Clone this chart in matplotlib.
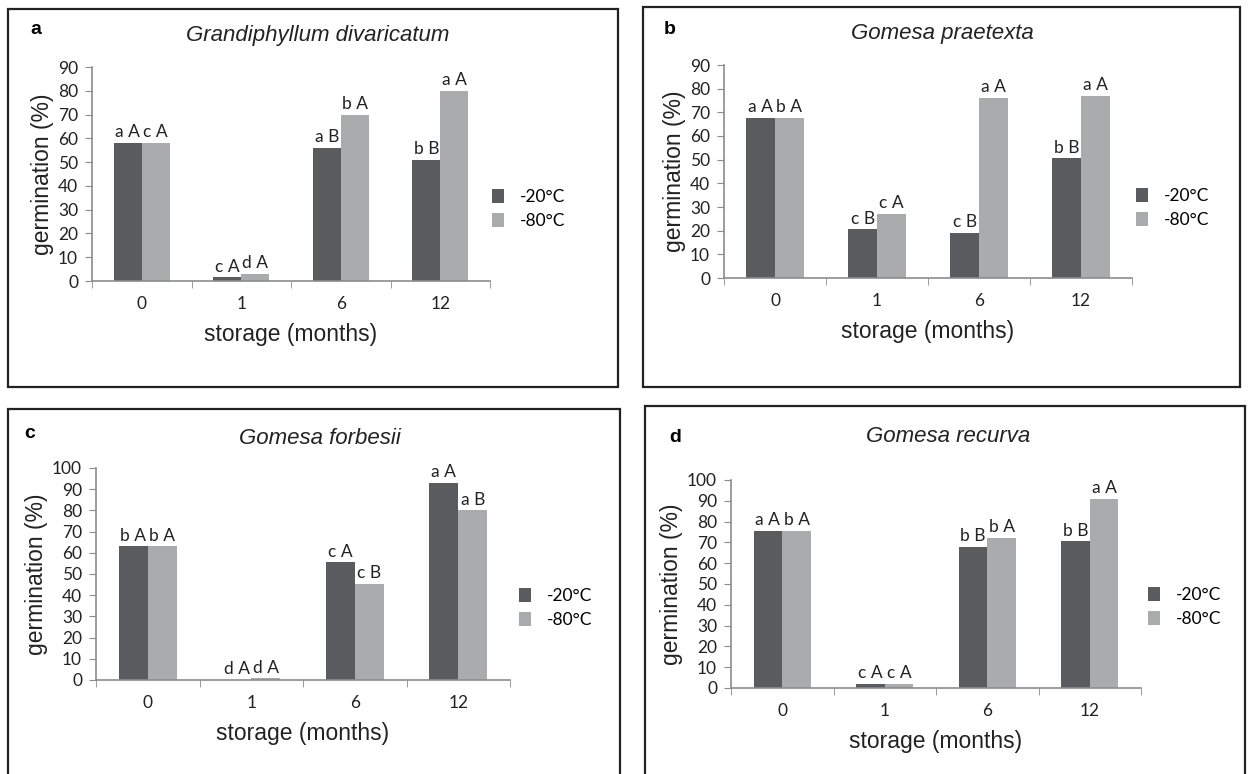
import matplotlib.pyplot as plt
from matplotlib.patches import Rectangle
import numpy as np

# storage times (months) and temperatures
months = ['0', '1', '6', '12']
temps = ['-20°C', '-80°C']

# germination (%)
a_m20 = [58, 1.5, 56, 51]
a_m80 = [58, 3, 70, 80]
b_m20 = [67.5, 20.5, 19, 50.5]
b_m80 = [67.5, 27, 76, 77]
c_m20 = [63, 0, 55.5, 93]
c_m80 = [63, 0.8, 45.5, 80]
d_m20 = [75.5, 2, 68, 70.5]
d_m80 = [75.5, 2, 72, 91]

# letters of the statistical test
a_lab20 = ['a A', 'c A', 'a B', 'b B']
a_lab80 = ['c A', 'd A', 'b A', 'a A']
b_lab20 = ['a A', 'c B', 'c B', 'b B']
b_lab80 = ['b A', 'c A', 'a A', 'a A']
c_lab20 = ['b A', 'd A', 'c A', 'a A']
c_lab80 = ['b A', 'd A', 'c B', 'a B']
d_lab20 = ['a A', 'c A', 'b B', 'b B']
d_lab80 = ['b A', 'c A', 'b A', 'a A']

species = ['Grandiphyllum divaricatum', 'Gomesa praetexta', 'Gomesa forbesii', 'Gomesa recurva']
letters = ['a', 'b', 'c', 'd']

W, H = 1248, 774
fig = plt.figure(figsize=(W / 100, H / 100), dpi=100)

dark = '#595c5e'
light = '#a9abac'
axcol = '#8c8c8c'
txt = '#222222'

def fx(px):
    return px / W

def fy(py):
    return 1 - py / H

# panel layout in pixels: frame, axes (left, right, y of 0, y of top), legend, title, letter
panels = [
    dict(m20=a_m20, m80=a_m80, l20=a_lab20, l80=a_lab80, frame=(8, 9, 618, 387),
         ax=(92, 490, 281, 67), ymax=90, title=(318, 35), letter=(36, 30), leg=(476, 209)),
    dict(m20=b_m20, m80=b_m80, l20=b_lab20, l80=b_lab80, frame=(643, 7, 1240, 387),
         ax=(724, 1132, 278, 65), ymax=90, title=(942, 33), letter=(670, 29), leg=(1120, 208)),
    dict(m20=c_m20, m80=c_m80, l20=c_lab20, l80=c_lab80, frame=(8, 409, 620, 790),
         ax=(96, 510, 680, 468), ymax=100, title=(320, 438), letter=(30, 433), leg=(503, 608)),
    dict(m20=d_m20, m80=d_m80, l20=d_lab20, l80=d_lab80, frame=(645, 406, 1245, 790),
         ax=(731, 1141, 688, 480), ymax=100, title=(948, 436), letter=(675, 437), leg=(1132, 607)),
]

x = np.arange(len(months))
bw = 0.28

for i, p in enumerate(panels):
    x0, y0, x1, y1 = p['frame']
    fig.patches.append(Rectangle((fx(x0), fy(y1)), fx(x1) - fx(x0), fy(y0) - fy(y1),
                                 transform=fig.transFigure, fill=False,
                                 edgecolor='#222222', linewidth=1.6))
    l, r, yb, yt = p['ax']
    ax = fig.add_axes([fx(l), fy(yb), fx(r) - fx(l), fy(yt) - fy(yb)])
    b1 = ax.bar(x - bw / 2, p['m20'], bw, color=dark, label=temps[0])
    b2 = ax.bar(x + bw / 2, p['m80'], bw, color=light, label=temps[1])
    for xi, h, s in zip(x - bw / 2, p['m20'], p['l20']):
        ax.annotate(s, (xi, h), xytext=(0, 2), textcoords='offset points',
                    ha='center', va='bottom', fontsize=12.5, family='Lato', color=txt)
    for xi, h, s in zip(x + bw / 2, p['m80'], p['l80']):
        ax.annotate(s, (xi, h), xytext=(0, 2), textcoords='offset points',
                    ha='center', va='bottom', fontsize=12.5, family='Lato', color=txt)

    ax.set_xlim(-0.5, 3.5)
    ax.set_ylim(0, p['ymax'])
    ax.set_yticks(np.arange(0, p['ymax'] + 1, 10))
    ax.set_xticks(x)
    ax.set_xticklabels(months)
    ax.set_xticks(np.arange(-0.5, 4, 1), minor=True)
    ax.tick_params(axis='x', which='major', length=0, pad=11)
    ax.tick_params(axis='x', which='minor', length=5, direction='out', color=axcol)
    ax.tick_params(axis='y', length=5, direction='out', color=axcol, pad=5)
    for t in ax.get_xticklabels() + ax.get_yticklabels():
        t.set_family('Lato')
        t.set_fontsize(12.5)
        t.set_color(txt)
    for s in ['top', 'right']:
        ax.spines[s].set_visible(False)
    for s in ['left', 'bottom']:
        ax.spines[s].set_color(axcol)
        ax.spines[s].set_linewidth(1.2)
    ax.set_ylabel('germination (%)', fontsize=16.5, family='Liberation Sans', color=txt, labelpad=3)
    ax.set_xlabel('storage (months)', fontsize=16.5, family='Liberation Sans', color=txt, labelpad=8)

    lx, ly = p['leg']
    fig.legend(handles=[b1, b2], labels=temps, loc='center left',
               bbox_to_anchor=(fx(lx), fy(ly)), frameon=False,
               handlelength=0.7, handleheight=0.9, handletextpad=0.9,
               labelspacing=0.45, prop={'family': 'Lato', 'size': 12.5})

    tx, ty = p['title']
    fig.text(fx(tx), fy(ty), species[i], ha='center', va='center', style='italic',
             fontsize=16, family='Liberation Sans', color=txt)
    lx, ly = p['letter']
    fig.text(fx(lx), fy(ly), letters[i], ha='center', va='center', fontweight='bold',
             fontsize=14, family='Liberation Sans', color='black')

fig.savefig('out.png', dpi=100)
